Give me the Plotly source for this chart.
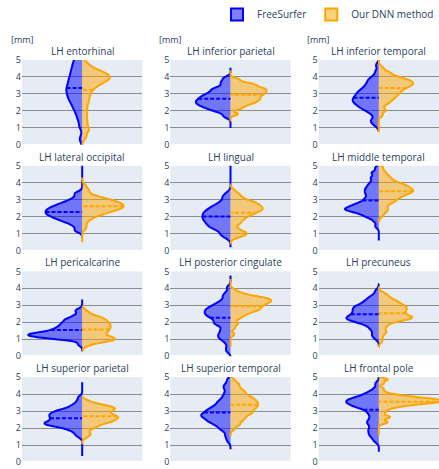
import plotly.graph_objects as go
from plotly.subplots import make_subplots

# Cortical regions (left hemisphere), in panel order
regions = ["entorhinal", "inferior parietal", "inferior temporal",
           "lateral occipital", "lingual", "middle temporal",
           "pericalcarine", "posterior cingulate", "precuneus",
           "superior parietal", "superior temporal", "frontal pole"]

# Cortical thickness samples [mm], FreeSurfer
fs_entorhinal = [0.35, 1.09, 1.46, 1.69, 1.90, 2.06, 2.19, 2.31, 2.43, 2.54, 2.62, 2.71, 2.79, 2.87,
                 2.96, 3.04, 3.11, 3.18, 3.26, 3.33, 3.40, 3.48, 3.56, 3.64, 3.73, 3.82, 3.90, 3.99,
                 4.08, 4.19, 4.29, 4.39, 4.49, 4.62, 4.74, 4.86, 4.99, 5.15, 5.35, 5.60]
fs_inferior_parietal = [1.67, 1.88, 2.01, 2.08, 2.15, 2.22, 2.27, 2.32, 2.37, 2.42, 2.46, 2.51, 2.55,
                        2.60, 2.64, 2.69, 2.74, 2.79, 2.84, 2.90, 2.95, 3.01, 3.09, 3.16, 3.25, 3.32,
                        3.42, 3.60, 3.75, 3.95]
fs_inferior_temporal = [1.46, 1.70, 1.84, 1.94, 2.02, 2.08, 2.14, 2.19, 2.24, 2.29, 2.33, 2.37, 2.41,
                        2.45, 2.49, 2.53, 2.56, 2.60, 2.63, 2.67, 2.70, 2.74, 2.77, 2.81, 2.85, 2.89,
                        2.93, 2.97, 3.01, 3.06, 3.11, 3.16, 3.22, 3.28, 3.36, 3.46, 3.60, 3.84,
                        3.17, 3.41, 3.56, 3.69, 3.81, 3.94, 4.09, 4.33, 4.70, 1.15, 1.30, 1.45]
fs_lateral_occipital = [1.16, 1.38, 1.49, 1.58, 1.64, 1.70, 1.75, 1.79, 1.83, 1.87, 1.90, 1.94, 1.97,
                        2.00, 2.03, 2.06, 2.09, 2.11, 2.14, 2.16, 2.19, 2.22, 2.24, 2.27, 2.29, 2.32,
                        2.34, 2.37, 2.40, 2.42, 2.45, 2.47, 2.50, 2.53, 2.56, 2.59, 2.62, 2.66, 2.69,
                        2.73, 2.77, 2.81, 2.86, 2.92, 2.98, 3.07, 3.18, 3.40, 3.35, 1.20]
fs_lingual = [1.38, 1.59, 1.71, 1.79, 1.86, 1.92, 1.98, 2.03, 2.08, 2.12, 2.16, 2.20, 2.24, 2.28,
              2.32, 2.36, 2.40, 2.44, 2.48, 2.52, 2.57, 2.62, 2.68, 2.74, 2.81, 2.89, 3.01, 3.22,
              0.90, 1.06, 1.15, 1.23, 1.29, 1.35, 1.40, 1.45, 1.51, 1.57, 1.65, 1.74, 1.90,
              1.61, 1.78, 1.90, 2.02, 2.19, 3.15, 3.40, 0.75, 0.95]
fs_middle_temporal = [1.87, 2.02, 2.09, 2.15, 2.20, 2.24, 2.28, 2.31, 2.34, 2.38, 2.41, 2.44, 2.46,
                      2.49, 2.52, 2.56, 2.59, 2.62, 2.66, 2.70, 2.75, 2.81, 2.88, 3.03,
                      2.44, 2.72, 2.88, 3.00, 3.09, 3.18, 3.26, 3.33, 3.40, 3.47, 3.53, 3.60, 3.67,
                      3.74, 3.82, 3.91, 4.00, 4.12, 4.28, 4.56, 1.43, 1.70, 1.97, 4.33, 4.60, 4.87]
fs_pericalcarine = [0.92, 1.00, 1.04, 1.07, 1.10, 1.12, 1.15, 1.17, 1.18, 1.20, 1.22, 1.24, 1.26,
                    1.28, 1.30, 1.32, 1.34, 1.37, 1.40, 1.44, 1.52,
                    1.05, 1.21, 1.30, 1.36, 1.42, 1.47, 1.51, 1.56, 1.60, 1.64, 1.69, 1.73, 1.78,
                    1.84, 1.90, 1.99, 2.15, 1.67, 1.85, 1.96, 2.04, 2.11, 2.19, 2.26, 2.34, 2.45,
                    2.63, 0.70, 2.75]
fs_posterior_cingulate = [1.58, 1.81, 1.93, 2.01, 2.08, 2.14, 2.20, 2.25, 2.29, 2.34, 2.38, 2.42,
                          2.45, 2.49, 2.53, 2.56, 2.60, 2.64, 2.67, 2.71, 2.75, 2.78, 2.82, 2.86,
                          2.91, 2.95, 3.00, 3.06, 3.12, 3.19, 3.27, 3.39, 3.62,
                          0.74, 0.91, 1.01, 1.09, 1.16, 1.24, 1.31, 1.39, 1.49, 1.66,
                          1.85, 1.95, 3.53, 3.80, 4.07, 0.30, 0.50]
fs_precuneus = [1.99, 2.08, 2.13, 2.18, 2.22, 2.27, 2.32, 2.41,
                1.92, 2.10, 2.20, 2.28, 2.34, 2.39, 2.43, 2.48, 2.52, 2.55, 2.59, 2.63, 2.66,
                2.70, 2.73, 2.77, 2.81, 2.85, 2.88, 2.93, 2.97, 3.03, 3.09, 3.16, 3.26, 3.44,
                1.32, 1.50, 1.61, 1.70, 1.80, 1.89, 2.00, 2.18,
                2.94, 3.18, 3.33, 3.47, 3.62, 3.86, 1.05, 1.22]
fs_superior_parietal = [1.89, 1.99, 2.04, 2.08, 2.11, 2.14, 2.17, 2.19, 2.22, 2.25, 2.27, 2.30, 2.33,
                        2.36, 2.40, 2.45, 2.55,
                        2.25, 2.38, 2.45, 2.51, 2.55, 2.59, 2.62, 2.65, 2.68, 2.71, 2.74, 2.77,
                        2.79, 2.82, 2.85, 2.88, 2.91, 2.94, 2.97, 3.01, 3.05, 3.11, 3.18, 3.31,
                        3.09, 3.30, 3.45, 3.60, 3.81, 1.50, 1.65, 1.76, 1.90]
fs_superior_temporal = [1.91, 2.10, 2.20, 2.28, 2.34, 2.39, 2.44, 2.48, 2.52, 2.56, 2.60, 2.63, 2.67,
                        2.70, 2.74, 2.77, 2.81, 2.84, 2.88, 2.92, 2.96, 3.00, 3.05, 3.11, 3.16, 3.24,
                        3.34, 3.53,
                        2.75, 3.04, 3.20, 3.33, 3.44, 3.55, 3.65, 3.76, 3.87, 4.00, 4.16, 4.45,
                        1.64, 1.85, 2.00, 2.15, 2.36, 4.35, 4.60, 4.85, 1.25, 1.48]
fs_frontal_pole = [2.91, 3.06, 3.14, 3.20, 3.25, 3.29, 3.33, 3.36, 3.40, 3.42, 3.45, 3.48, 3.51,
                   3.54, 3.56, 3.59, 3.62, 3.65, 3.68, 3.70, 3.74, 3.77, 3.81, 3.85, 3.90, 3.96,
                   4.04, 4.19,
                   1.92, 2.15, 2.29, 2.40, 2.50, 2.60, 2.70, 2.81, 2.95, 3.18,
                   1.21, 1.38, 1.50, 1.62, 1.79, 4.08, 4.35, 4.62, 1.68, 1.91, 2.09, 2.32]

# Cortical thickness samples [mm], our DNN method
dnn_entorhinal = [0.45, 0.80, 0.97, 1.25, 1.53, 1.84, 2.14, 2.43, 2.65, 2.86, 3.05, 3.21, 3.35, 3.46,
                  3.55, 3.63, 3.71, 3.76, 3.82, 3.87, 3.92, 3.97, 4.02, 4.07, 4.12, 4.18, 4.24,
                  4.30, 4.38, 4.47, 4.60, 4.84]
dnn_inferior_parietal = [1.82, 2.12, 2.26, 2.37, 2.45, 2.52, 2.58, 2.64, 2.70, 2.75, 2.81, 2.87,
                         2.92, 2.98, 3.03, 3.07, 3.12, 3.17, 3.22, 3.26, 3.31, 3.35, 3.41, 3.48,
                         3.54, 3.60, 3.69, 3.87]
dnn_inferior_temporal = [3.11, 3.25, 3.33, 3.39, 3.44, 3.48, 3.52, 3.55, 3.59, 3.62, 3.65, 3.68,
                         3.71, 3.74, 3.77, 3.81, 3.84, 3.88, 3.92, 3.97, 4.03, 4.11, 4.25,
                         2.08, 2.30, 2.43, 2.52, 2.60, 2.67, 2.73, 2.79, 2.85, 2.90, 2.95, 3.00,
                         3.05, 3.11, 3.17, 3.23, 3.30, 3.38, 3.47, 3.60, 3.82,
                         4.04, 4.23, 4.37, 4.56, 1.75, 2.00]
dnn_lateral_occipital = [1.85, 2.02, 2.11, 2.18, 2.23, 2.27, 2.31, 2.35, 2.38, 2.41, 2.44, 2.47,
                         2.49, 2.52, 2.54, 2.57, 2.59, 2.61, 2.64, 2.66, 2.68, 2.70, 2.72, 2.75,
                         2.77, 2.79, 2.82, 2.84, 2.87, 2.89, 2.92, 2.95, 2.98, 3.01, 3.05, 3.09,
                         3.13, 3.18, 3.25, 3.34, 3.51,
                         1.74, 1.95, 2.10, 2.25, 2.46, 1.30, 1.52, 3.60, 3.82]
dnn_lingual = [1.64, 1.82, 1.92, 1.99, 2.05, 2.10, 2.14, 2.18, 2.22, 2.25, 2.29, 2.32, 2.35, 2.38,
               2.41, 2.44, 2.47, 2.49, 2.52, 2.55, 2.58, 2.61, 2.64, 2.67, 2.71, 2.74, 2.78, 2.82,
               2.86, 2.91, 2.97, 3.04, 3.14, 3.32,
               0.77, 0.87, 0.93, 0.98, 1.02, 1.07, 1.13, 1.23, 1.34, 1.53, 1.67, 1.86,
               2.85, 3.15, 3.35, 3.55]
dnn_middle_temporal = [2.89, 3.05, 3.14, 3.20, 3.25, 3.30, 3.34, 3.38, 3.41, 3.44, 3.47, 3.50, 3.53,
                       3.56, 3.59, 3.61, 3.64, 3.67, 3.70, 3.73, 3.76, 3.79, 3.82, 3.86, 3.90, 3.95,
                       4.00, 4.06, 4.15, 4.31,
                       2.35, 2.55, 2.68, 2.77, 2.86, 2.94, 3.03, 3.12, 3.25, 3.45,
                       3.96, 4.19, 4.33, 4.45, 4.57, 4.71, 4.94, 2.05, 2.25, 2.45]
dnn_pericalcarine = [0.74, 0.82, 0.86, 0.90, 0.93, 0.95, 0.98, 1.01, 1.03, 1.06, 1.10, 1.14, 1.22,
                     1.01, 1.15, 1.22, 1.28, 1.33, 1.38, 1.42, 1.46, 1.51, 1.56, 1.62, 1.69, 1.83,
                     1.46, 1.59, 1.66, 1.71, 1.76, 1.80, 1.84, 1.88, 1.92, 1.96, 2.00, 2.05, 2.10,
                     2.17, 2.30, 2.03, 2.14, 2.22, 2.28, 2.34, 2.42, 2.53, 0.62, 2.68]
dnn_posterior_cingulate = [2.97, 3.07, 3.13, 3.17, 3.20, 3.24, 3.27, 3.29, 3.32, 3.35, 3.37, 3.40,
                           3.44, 3.47, 3.51, 3.57, 3.67,
                           2.28, 2.42, 2.51, 2.57, 2.62, 2.66, 2.71, 2.74, 2.78, 2.82, 2.85, 2.88,
                           2.92, 2.96, 2.99, 3.04, 3.08, 3.13, 3.19, 3.28, 3.42,
                           1.86, 2.12, 2.30, 2.48, 2.74, 3.49, 3.64, 3.76, 3.91, 1.30, 1.65, 1.95]
dnn_precuneus = [2.08, 2.15, 2.20, 2.23, 2.27, 2.31, 2.35, 2.42,
                 1.98, 2.16, 2.27, 2.34, 2.40, 2.45, 2.50, 2.54, 2.58, 2.61, 2.65, 2.68, 2.72,
                 2.75, 2.79, 2.82, 2.85, 2.88, 2.92, 2.95, 2.99, 3.02, 3.06, 3.10, 3.15, 3.20,
                 3.26, 3.34, 3.44, 3.62,
                 1.41, 1.61, 1.74, 1.86, 1.99, 2.19, 0.90, 1.15, 1.40, 3.28, 3.50, 3.72]
dnn_superior_parietal = [2.08, 2.20, 2.26, 2.31, 2.36, 2.39, 2.42, 2.45, 2.48, 2.51, 2.54, 2.56,
                         2.59, 2.62, 2.65, 2.68, 2.71, 2.75, 2.79, 2.84, 2.90, 3.02,
                         2.99, 3.06, 3.11, 3.14, 3.17, 3.20, 3.23, 3.26, 3.30, 3.34, 3.41,
                         2.65, 2.78, 2.86, 2.94, 3.02, 3.15,
                         1.67, 1.84, 1.95, 2.05, 2.16, 2.33, 3.38, 3.50, 3.62, 1.45, 1.62]
dnn_superior_temporal = [2.19, 2.44, 2.57, 2.67, 2.75, 2.81, 2.87, 2.92, 2.97, 3.01, 3.06, 3.10,
                         3.14, 3.17, 3.21, 3.25, 3.28, 3.32, 3.35, 3.38, 3.42, 3.45, 3.49, 3.52,
                         3.55, 3.59, 3.63, 3.67, 3.70, 3.74, 3.79, 3.83, 3.87, 3.93, 3.99, 4.05,
                         4.13, 4.23, 4.36, 4.61,
                         1.94, 2.18, 2.33, 2.47, 2.62, 2.86, 4.17, 4.41, 4.59, 4.83]
dnn_frontal_pole = [3.22, 3.31, 3.35, 3.39, 3.42, 3.44, 3.47, 3.49, 3.51, 3.52, 3.54, 3.56, 3.58,
                    3.59, 3.61, 3.62, 3.64, 3.66, 3.68, 3.69, 3.71, 3.73, 3.76, 3.78, 3.81, 3.85,
                    3.89, 3.98,
                    2.37, 2.69, 2.87, 3.01, 3.12, 3.22, 3.32, 3.41, 3.50, 3.59, 3.68, 3.78, 3.88,
                    3.99, 4.13, 4.31, 4.63, 4.82, 4.88, 2.30, 2.55, 2.65]

fs_samples = [fs_entorhinal, fs_inferior_parietal, fs_inferior_temporal, fs_lateral_occipital,
              fs_lingual, fs_middle_temporal, fs_pericalcarine, fs_posterior_cingulate,
              fs_precuneus, fs_superior_parietal, fs_superior_temporal, fs_frontal_pole]
dnn_samples = [dnn_entorhinal, dnn_inferior_parietal, dnn_inferior_temporal, dnn_lateral_occipital,
               dnn_lingual, dnn_middle_temporal, dnn_pericalcarine, dnn_posterior_cingulate,
               dnn_precuneus, dnn_superior_parietal, dnn_superior_temporal, dnn_frontal_pole]

# KDE bandwidths and density spans for each half-violin
fs_bandwidth = [0.2, 0.11, 0.14, 0.12, 0.13, 0.11, 0.1, 0.12, 0.13, 0.11, 0.13, 0.12]
dnn_bandwidth = [0.17, 0.09, 0.11, 0.12, 0.12, 0.12, 0.12, 0.1, 0.12, 0.1, 0.11, 0.08]
fs_span = [[-0.2, 5.8], [1.0, 4.55], [0.85, 5.2], [0.8, 5.2], [0.2, 5.2], [0.6, 5.2],
           [0.3, 3.35], [-0.3, 4.75], [0.65, 4.25], [0.35, 4.7], [0.75, 5.2], [0.6, 5.2]]
dnn_span = [[-0.1, 5.2], [1.4, 4.4], [0.75, 5.0], [0.5, 4.3], [0.4, 3.9], [1.7, 5.1],
            [0.35, 2.95], [0.55, 4.55], [0.55, 4.1], [1.05, 3.85], [1.5, 5.1], [1.6, 5.1]]

FS_COLOR = "blue"
DNN_COLOR = "orange"
FONT = "Open Sans, Arial, sans-serif"

fig = make_subplots(rows=4, cols=3,
                    subplot_titles=["LH " + r for r in regions],
                    horizontal_spacing=0.0671, vertical_spacing=0.0515)

for i in range(len(regions)):
    row, col = i // 3 + 1, i % 3 + 1
    fig.add_trace(go.Violin(
        y=fs_samples[i], x0=0, side="negative", name="FreeSurfer",
        legendgroup="fs", showlegend=(i == 0),
        line=dict(color=FS_COLOR, width=2), fillcolor="rgba(0,0,255,0.5)",
        meanline=dict(visible=True, color=FS_COLOR, width=2),
        points=False, bandwidth=fs_bandwidth[i],
        spanmode="manual", span=fs_span[i],
        scalegroup="all", scalemode="width", hoverinfo="skip"),
        row=row, col=col)
    fig.add_trace(go.Violin(
        y=dnn_samples[i], x0=0, side="positive", name="Our DNN method",
        legendgroup="dnn", showlegend=(i == 0),
        line=dict(color=DNN_COLOR, width=2), fillcolor="rgba(255,165,0,0.5)",
        meanline=dict(visible=True, color=DNN_COLOR, width=2),
        points=False, bandwidth=dnn_bandwidth[i],
        spanmode="manual", span=dnn_span[i],
        scalegroup="all", scalemode="width", hoverinfo="skip"),
        row=row, col=col)

fig.update_annotations(font=dict(size=10, family=FONT))

# unit label above each top-row axis
for col in range(1, 4):
    fig.add_annotation(text="[mm]", showarrow=False,
                       xref=f"x{'' if col == 1 else col} domain", x=0, xanchor="center",
                       yref=f"y{'' if col == 1 else col} domain", y=1, yanchor="bottom",
                       yshift=12, font=dict(size=9, family=FONT))

fig.update_layout(
    width=439, height=469,
    margin=dict(l=22, r=0, t=60, b=7),
    template="plotly",
    font=dict(family=FONT, size=9),
    violinmode="overlay", violingap=0, violingroupgap=0,
    legend=dict(orientation="h", x=1, xanchor="right", y=1.1144, yanchor="middle",
                font=dict(size=10, family=FONT)),
)
fig.update_xaxes(type="linear", range=[-0.469, 0.469], showticklabels=False,
                 showgrid=False, zeroline=False)
fig.update_yaxes(range=[0, 5], dtick=1, gridcolor="#8c8c8c", gridwidth=1.2,
                 tickfont=dict(size=9))

fig.write_html("out.html")
